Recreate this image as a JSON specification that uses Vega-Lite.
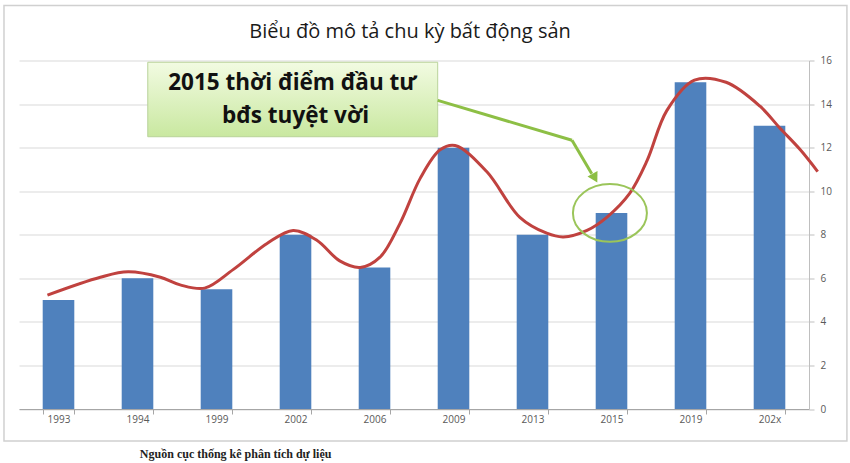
{
  "$schema": "https://vega.github.io/schema/vega-lite/v6.json",
  "width": 790,
  "height": 348.5,
  "autosize": {"type": "none"},
  "padding": {"left": 19, "top": 60.5, "right": 41, "bottom": 54},
  "background": "white",
  "config": {"view": {"stroke": null}, "font": "Open Sans"},
  "datasets": {
    "bars": [
      {"year": "1993", "value": 5},
      {"year": "1994", "value": 6},
      {"year": "1999", "value": 5.5},
      {"year": "2002", "value": 8},
      {"year": "2006", "value": 6.5},
      {"year": "2009", "value": 12},
      {"year": "2013", "value": 8},
      {"year": "2015", "value": 9},
      {"year": "2019", "value": 15},
      {"year": "202x", "value": 13}
    ],
    "curve": [
      {"pos": 0.36, "value": 5.23},
      {"pos": 1.03, "value": 6.05},
      {"pos": 1.38, "value": 6.3},
      {"pos": 1.79, "value": 6.05},
      {"pos": 2.04, "value": 5.7},
      {"pos": 2.35, "value": 5.55},
      {"pos": 2.71, "value": 6.4},
      {"pos": 3.14, "value": 7.6},
      {"pos": 3.47, "value": 8.2},
      {"pos": 3.77, "value": 7.75},
      {"pos": 4.06, "value": 6.8},
      {"pos": 4.32, "value": 6.5},
      {"pos": 4.57, "value": 6.97},
      {"pos": 4.82, "value": 8.5},
      {"pos": 5.08, "value": 10.6},
      {"pos": 5.33, "value": 11.9},
      {"pos": 5.52, "value": 12.1},
      {"pos": 5.92, "value": 10.9},
      {"pos": 6.34, "value": 8.8},
      {"pos": 6.68, "value": 8.07},
      {"pos": 6.89, "value": 7.9},
      {"pos": 7.19, "value": 8.2},
      {"pos": 7.44, "value": 8.8},
      {"pos": 7.73, "value": 9.9},
      {"pos": 7.95, "value": 11.4},
      {"pos": 8.2, "value": 13.7},
      {"pos": 8.55, "value": 15.1},
      {"pos": 8.95, "value": 15.0},
      {"pos": 9.38, "value": 13.9},
      {"pos": 9.63, "value": 12.9},
      {"pos": 9.89, "value": 11.9},
      {"pos": 10.11, "value": 10.9}
    ]
  },
  "layer": [
    {
      "data": {"name": "bars"},
      "mark": {"type": "bar", "color": "#4f81bd"},
      "encoding": {
        "x": {
          "field": "year",
          "type": "ordinal",
          "sort": null,
          "scale": {"paddingInner": 0.6, "paddingOuter": 0.3},
          "axis": {
            "title": null,
            "labelAngle": 0,
            "labelFont": "Open Sans",
            "labelFontSize": 10,
            "labelColor": "#595959",
            "domainColor": "#a6a6a6",
            "tickColor": "#a6a6a6",
            "tickBand": "extent",
            "tickSize": 5,
            "labelPadding": 0
          }
        },
        "y": {
          "field": "value",
          "type": "quantitative",
          "scale": {"domain": [0, 16], "nice": false},
          "axis": {
            "orient": "right",
            "title": null,
            "values": [0, 2, 4, 6, 8, 10, 12, 14, 16],
            "grid": true,
            "gridColor": "#d9d9d9",
            "domainColor": "#bfbfbf",
            "tickColor": "#bfbfbf",
            "tickSize": 5,
            "labelPadding": 6,
            "labelFont": "Open Sans",
            "labelFontSize": 10,
            "labelColor": "#595959"
          }
        }
      }
    },
    {
      "layer": [
        {
          "data": {"values": [{}]},
          "mark": {"type": "rect", "filled": false, "stroke": "#d0d0d0", "strokeWidth": 1.5},
          "encoding": {
            "x": {"datum": -0.19, "type": "quantitative", "scale": {"domain": [0, 10], "nice": false, "zero": false}, "axis": null},
            "x2": {"datum": 10.48},
            "y": {"datum": 18.53, "type": "quantitative", "scale": {"domain": [0, 16], "nice": false}, "title": null},
            "y2": {"datum": -1.47}
          }
        },
        {
          "data": {"values": [{}]},
          "mark": {"type": "text", "text": "Biểu đồ mô tả chu kỳ bất động sản", "font": "Open Sans", "fontSize": 20, "color": "#1a1a1a", "align": "center", "baseline": "middle"},
          "encoding": {
            "x": {"datum": 4.95, "type": "quantitative", "scale": {"domain": [0, 10], "nice": false, "zero": false}, "axis": null},
            "y": {"datum": 17.3, "type": "quantitative", "scale": {"domain": [0, 16], "nice": false}, "title": null}
          }
        },
        {
          "data": {"values": [{}]},
          "mark": {
            "type": "rect",
            "stroke": "#b9d39a",
            "strokeWidth": 1,
            "fill": {
              "x1": 0, "y1": 0, "x2": 0, "y2": 1,
              "gradient": "linear",
              "stops": [
                {"offset": 0, "color": "#f2fbe2"},
                {"offset": 1, "color": "#c9e8a0"}
              ]
            }
          },
          "encoding": {
            "x": {"datum": 1.63, "type": "quantitative", "scale": {"domain": [0, 10], "nice": false, "zero": false}, "axis": null},
            "x2": {"datum": 5.3},
            "y": {"datum": 15.92, "type": "quantitative", "scale": {"domain": [0, 16], "nice": false}, "title": null},
            "y2": {"datum": 12.5}
          }
        },
        {
          "data": {"values": [{}]},
          "mark": {"type": "text", "text": "2015 thời điểm đầu tư", "font": "Open Sans", "fontWeight": "bold", "fontSize": 22.5, "color": "#111", "align": "center", "baseline": "middle"},
          "encoding": {
            "x": {"datum": 3.46, "type": "quantitative", "scale": {"domain": [0, 10], "nice": false, "zero": false}, "axis": null},
            "y": {"datum": 14.95, "type": "quantitative", "scale": {"domain": [0, 16], "nice": false}, "title": null}
          }
        },
        {
          "data": {"values": [{}]},
          "mark": {"type": "text", "text": "bđs tuyệt vời", "font": "Open Sans", "fontWeight": "bold", "fontSize": 22.5, "color": "#111", "align": "center", "baseline": "middle"},
          "encoding": {
            "x": {"datum": 3.5, "type": "quantitative", "scale": {"domain": [0, 10], "nice": false, "zero": false}, "axis": null},
            "y": {"datum": 13.45, "type": "quantitative", "scale": {"domain": [0, 16], "nice": false}, "title": null}
          }
        },
        {
          "data": {"name": "curve"},
          "mark": {"type": "line", "interpolate": "catmull-rom", "stroke": "#c0423f", "strokeWidth": 3},
          "encoding": {
            "x": {"field": "pos", "type": "quantitative", "scale": {"domain": [0, 10], "nice": false, "zero": false}, "axis": null},
            "y": {"field": "value", "type": "quantitative", "scale": {"domain": [0, 16], "nice": false}, "title": null}
          }
        },
        {
          "data": {"values": [{}]},
          "mark": {"type": "rule", "stroke": "#8dbf45", "strokeWidth": 3},
          "encoding": {
            "x": {"datum": 5.3, "type": "quantitative", "scale": {"domain": [0, 10], "nice": false, "zero": false}, "axis": null},
            "x2": {"datum": 7.0},
            "y": {"datum": 14.17, "type": "quantitative", "scale": {"domain": [0, 16], "nice": false}, "title": null},
            "y2": {"datum": 12.34}
          }
        },
        {
          "data": {"values": [{}]},
          "mark": {"type": "rule", "stroke": "#8dbf45", "strokeWidth": 3},
          "encoding": {
            "x": {"datum": 7.0, "type": "quantitative", "scale": {"domain": [0, 10], "nice": false, "zero": false}, "axis": null},
            "x2": {"datum": 7.25},
            "y": {"datum": 12.34, "type": "quantitative", "scale": {"domain": [0, 16], "nice": false}, "title": null},
            "y2": {"datum": 10.8}
          }
        },
        {
          "data": {"values": [{}]},
          "mark": {"type": "point", "shape": "triangle-down", "filled": true, "color": "#8dbf45", "size": 130, "angle": -29, "opacity": 1},
          "encoding": {
            "x": {"datum": 7.29, "type": "quantitative", "scale": {"domain": [0, 10], "nice": false, "zero": false}, "axis": null},
            "y": {"datum": 10.6, "type": "quantitative", "scale": {"domain": [0, 16], "nice": false}, "title": null}
          }
        },
        {
          "data": {"values": [{}]},
          "mark": {"type": "point", "shape": "M -1 0 A 1 0.78 0 1 0 1 0 A 1 0.78 0 1 0 -1 0 Z", "filled": false, "stroke": "#9bc55a", "strokeWidth": 2, "size": 5476, "opacity": 1},
          "encoding": {
            "x": {"datum": 7.48, "type": "quantitative", "scale": {"domain": [0, 10], "nice": false, "zero": false}, "axis": null},
            "y": {"datum": 9.0, "type": "quantitative", "scale": {"domain": [0, 16], "nice": false}, "title": null}
          }
        },
        {
          "data": {"values": [{}]},
          "mark": {"type": "text", "text": "Nguồn cục thống kê phân tích dự liệu", "font": "Liberation Serif", "fontWeight": "bold", "fontSize": 12, "color": "#222", "align": "left", "baseline": "middle"},
          "encoding": {
            "x": {"datum": 1.53, "type": "quantitative", "scale": {"domain": [0, 10], "nice": false, "zero": false}, "axis": null},
            "y": {"datum": -2.07, "type": "quantitative", "scale": {"domain": [0, 16], "nice": false}, "title": null}
          }
        }
      ]
    }
  ],
  "resolve": {"scale": {"x": "independent"}}
}
